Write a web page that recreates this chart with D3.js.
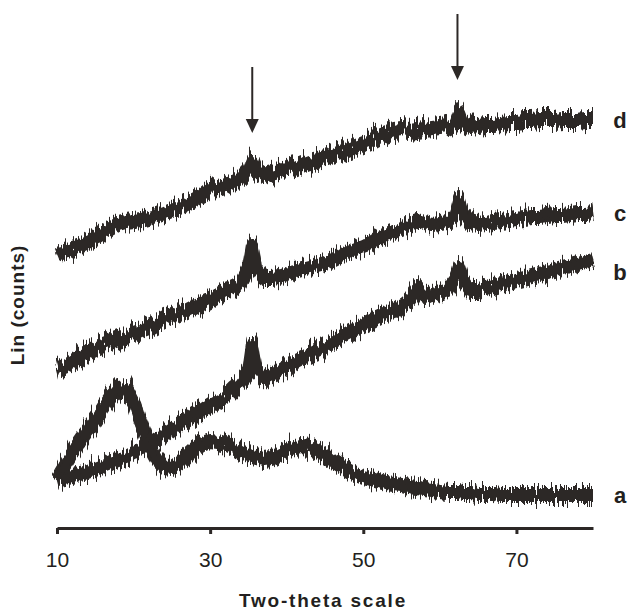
<!DOCTYPE html>
<html>
<head>
<meta charset="utf-8">
<script src="https://cdn.jsdelivr.net/npm/d3@7"></script>
<style>
  body { margin: 0; background: #fff; }
  svg { display: block; }
</style>
</head>
<body>
<svg id="chart" width="635" height="610"></svg>
<script>
// two-theta grid (deg), extra points at the two marked reflections
const twoTheta = [10,11,12,13,14,15,16,17,18,19,20,21,22,23,24,25,26,27,28,29,30,31,32,33,34,35,35.5,
  36,37,38,39,40,41,42,43,44,45,46,47,48,49,50,51,52,53,54,55,56,57,58,59,60,61,62,62.5,
  63,64,65,66,67,68,69,70,71,72,73,74,75,76,77,78,79,80];

// counts (arbitrary units, stacked offsets as in the figure)
const traceA = [50,63,76,87,98,108,120,131,140,141,126,103,83,69,61,60,65,72,79,84,87,86,84,80,76,73,72,
  71,69,70,74,78,81,82,81,78,73,67,62,58,54,51,49,47,45,44,43,41,40,39,38,37,36,36,36,
  35,35,34,34,34,33,33,33,33,33,33,33,33,33,33,33,33,33];
const traceB = [48,50,52,54,56,59,62,65,68,71,75,79,83,88,93,98,103,108,113,118,123,128,132,140,146,156,183,
  160,150,154,158,162,166,170,174,178,182,186,190,194,198,202,206,210,213,216,222,228,240,231,233,235,238,248,260,
  248,238,238,240,242,244,246,248,250,252,254,256,258,260,262,264,266,268];
const traceC = [160,162,166,171,176,180,184,187,190,192,194,197,200,204,208,211,214,217,221,225,229,234,238,241,245,260,283,
  260,250,250,251,254,257,259,261,263,265,268,272,276,279,282,285,290,293,296,299,302,308,306,304,305,306,313,328,
  314,306,304,305,306,307,308,309,310,311,311,312,313,313,314,315,315,316];
const traceD = [273,276,279,282,286,290,295,300,304,306,307,308,310,312,315,318,321,324,328,332,338,339,341,344,350,358,368,
  358,352,354,356,358,360,363,366,368,370,373,376,379,382,385,388,392,395,398,399,398,399,400,401,402,403,406,416,
  406,402,403,404,404,405,406,406,407,407,408,408,408,409,409,409,410,410];

const seriesNames = ["a", "b", "c", "d"];
const labelCounts = [33, 256, 315, 408];
const xTicks = [10, 30, 50, 70];
const arrowAngles = [35.5, 62.3];
const arrowTops = [461, 514];
const arrowTips = [395, 448];

const ink = "#2c2826";
const svg = d3.select("#chart");
const x = d3.scaleLinear().domain([10, 80]).range([57, 593]);
const y = d3.scaleLinear().domain([0, 500]).range([528, 28]);

// jitter filters so the thick traces get a noisy, spiky edge like the scan
const defs = svg.append("defs");
[["jitA", 3], ["jitB", 17]].forEach(([id, seed]) => {
  const f = defs.append("filter").attr("id", id)
    .attr("filterUnits", "userSpaceOnUse")
    .attr("x", 0).attr("y", 0).attr("width", 635).attr("height", 610)
    .attr("color-interpolation-filters", "sRGB");
  f.append("feTurbulence").attr("type", "fractalNoise")
    .attr("baseFrequency", "0.45 0.004").attr("numOctaves", 2)
    .attr("seed", seed).attr("result", "n");
  f.append("feColorMatrix").attr("in", "n").attr("type", "matrix")
    .attr("values", "0 0 0 0 0.5  0 1 0 0 0  0 0 0 0 0  0 0 0 0 1")
    .attr("result", "m");
  f.append("feDisplacementMap").attr("in", "SourceGraphic").attr("in2", "m")
    .attr("scale", 28).attr("xChannelSelector", "R").attr("yChannelSelector", "G");
});

const traces = [traceA, traceB, traceC, traceD];
const line = d3.line()
  .x((d, i) => x(twoTheta[i]))
  .y(d => y(d));

["jitA", "jitB"].forEach(id => {
  svg.append("g")
    .attr("filter", `url(#${id})`)
    .selectAll("path")
    .data(traces)
    .enter()
    .append("path")
    .attr("d", d => line(d))
    .attr("fill", "none")
    .attr("stroke", ink)
    .attr("stroke-width", 12)
    .attr("stroke-linejoin", "round");
});

// x axis
const xAxis = d3.axisBottom(x)
  .tickValues(xTicks)
  .tickSize(6)
  .tickSizeOuter(0)
  .tickFormat(d3.format("d"));
const gx = svg.append("g")
  .attr("transform", `translate(0,${y(0)})`)
  .call(xAxis);
gx.select(".domain").attr("stroke", ink).attr("stroke-width", 3);
gx.selectAll(".tick line").attr("stroke", ink).attr("stroke-width", 3);
gx.selectAll(".tick text")
  .attr("y", 24)
  .attr("font-family", "'Liberation Sans', Arial, sans-serif")
  .attr("font-size", 21)
  .attr("fill", "#231f20");

svg.append("text")
  .attr("x", 323)
  .attr("y", 607)
  .attr("text-anchor", "middle")
  .attr("font-family", "'Liberation Sans', Arial, sans-serif")
  .attr("font-weight", "bold")
  .attr("font-size", 19)
  .attr("letter-spacing", 1.8)
  .attr("fill", "#231f20")
  .text("Two-theta scale");

svg.append("text")
  .attr("transform", "translate(24,305) rotate(-90)")
  .attr("text-anchor", "middle")
  .attr("font-family", "'Liberation Sans', Arial, sans-serif")
  .attr("font-weight", "bold")
  .attr("font-size", 19)
  .attr("letter-spacing", 1)
  .attr("fill", "#231f20")
  .text("Lin (counts)");

// series letters at right
svg.append("g")
  .selectAll("text")
  .data(seriesNames)
  .enter()
  .append("text")
  .attr("x", x(80) + 27)
  .attr("y", (d, i) => y(labelCounts[i]))
  .attr("text-anchor", "middle")
  .attr("dominant-baseline", "central")
  .attr("font-family", "'Liberation Sans', Arial, sans-serif")
  .attr("font-weight", "bold")
  .attr("font-size", 22)
  .attr("fill", "#231f20")
  .text(d => d);

// arrows marking the reflections
const arrows = svg.append("g")
  .selectAll("g")
  .data(arrowAngles)
  .enter()
  .append("g");
arrows.append("line")
  .attr("x1", d => x(d)).attr("x2", d => x(d))
  .attr("y1", (d, i) => y(arrowTops[i]))
  .attr("y2", (d, i) => y(arrowTips[i]) - 12)
  .attr("stroke", ink)
  .attr("stroke-width", 2);
arrows.append("path")
  .attr("d", (d, i) => {
    const px = x(d), ty = y(arrowTips[i]);
    return `M${px - 6.5},${ty - 14}L${px + 6.5},${ty - 14}L${px},${ty}Z`;
  })
  .attr("fill", ink);
</script>
</body>
</html>
